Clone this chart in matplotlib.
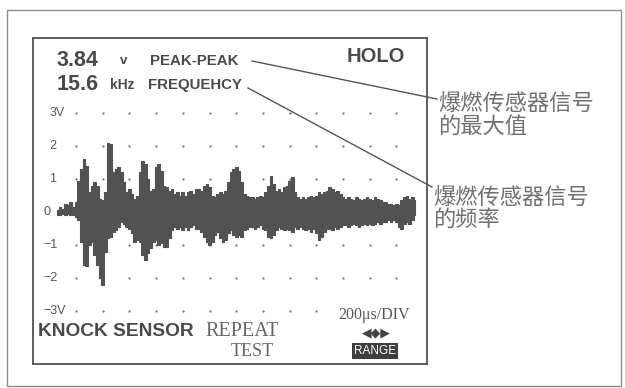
import numpy as np
import matplotlib
matplotlib.use("Agg")
import matplotlib.pyplot as plt
from matplotlib.lines import Line2D
from matplotlib.patches import Rectangle

# knock sensor trace, envelope (volts), one sample every 20 us
sample_us = 20
start_us = -140
upper = [0.05, 0.15, 0.1, 0.25, 0.2, 0.3, 0.15, 0.3, 0.95, 1.3,
         1.6, 1.4, 0.6, 0.8, 0.9, 0.8, 0.4, 0.35, 0.6, 2.1,
         2.05, 1.2, 1.3, 1.35, 1.2, 0.9, 0.6, 0.7, 0.55, 0.4,
         0.5, 1.2, 1.55, 1.45, 1.0, 0.65, 0.7, 1.35, 1.45, 1.25,
         0.8, 0.75, 0.65, 0.7, 0.55, 0.6, 0.5, 0.6, 0.5, 0.6,
         0.65, 0.55, 0.7, 0.7, 0.65, 0.8, 0.85, 0.75, 0.5, 0.45,
         0.55, 0.6, 0.55, 0.65, 0.9, 1.2, 1.3, 1.35, 1.25, 0.9,
         0.55, 0.5, 0.45, 0.45, 0.4, 0.45, 0.5, 0.45, 0.6, 0.8,
         1.1, 0.85, 0.65, 0.7, 0.6, 0.75, 0.8, 0.95, 1.05, 0.6,
         0.45, 0.4, 0.45, 0.4, 0.45, 0.5, 0.45, 0.5, 0.6, 0.55,
         0.6, 0.65, 0.75, 0.7, 0.6, 0.65, 0.55, 0.45, 0.4, 0.45,
         0.4, 0.35, 0.45, 0.4, 0.35, 0.4, 0.45, 0.4, 0.35, 0.45,
         0.4, 0.35, 0.3, 0.3, 0.25, 0.25, 0.2, 0.25, 0.2, 0.35,
         0.45, 0.5, 0.4, 0.45, 0.35]
lower = [-0.1, -0.1, -0.05, -0.1, -0.05, -0.1, -0.1, -0.15, -0.25, -0.9,
         -1.6, -1.65, -1.0, -0.9, -1.3, -1.6, -2.0, -2.2, -1.2, -0.8,
         -0.75, -0.6, -0.55, -0.45, -0.3, -0.35, -0.45, -0.5, -0.65, -0.9,
         -0.85, -0.9, -1.3, -1.45, -1.25, -1.1, -0.9, -0.85, -1.0, -0.95,
         -1.05, -1.05, -0.8, -0.55, -0.45, -0.5, -0.45, -0.55, -0.45, -0.55,
         -0.45, -0.4, -0.5, -0.5, -0.6, -0.75, -0.9, -1.0, -0.9, -0.7,
         -0.6, -0.8, -0.9, -0.85, -0.65, -0.55, -0.7, -0.75, -0.7, -0.75,
         -0.55, -0.5, -0.45, -0.45, -0.5, -0.45, -0.4, -0.5, -0.55, -0.75,
         -0.8, -0.7, -0.55, -0.45, -0.5, -0.55, -0.5, -0.55, -0.6, -0.45,
         -0.5, -0.45, -0.5, -0.55, -0.5, -0.6, -0.5, -0.65, -0.85, -0.75,
         -0.6, -0.5, -0.5, -0.55, -0.45, -0.5, -0.45, -0.4, -0.4, -0.45,
         -0.4, -0.35, -0.4, -0.45, -0.4, -0.35, -0.4, -0.35, -0.4, -0.35,
         -0.3, -0.35, -0.3, -0.3, -0.25, -0.3, -0.25, -0.3, -0.45, -0.5,
         -0.35, -0.3, -0.35, -0.25, -0.1]

grid_us = [0, 200, 400, 600, 800, 1000, 1200, 1400, 1600, 1800, 2000, 2200, 2400]
grid_v = [3, 2, 1, -1, -2, -3]
volt_labels = ["3V", "2", "1", "0", "\u22121", "\u22122", "\u22123V"]
volt_values = [3, 2, 1, 0, -1, -2, -3]

peak_v = "3.84"
freq_khz = "15.6"

W, H = 625, 388
sans = ["Liberation Sans", "DejaVu Sans"]
serif = ["Liberation Serif", "DejaVu Serif"]
cjk = ["Noto Sans CJK SC", "DejaVu Sans"]
ink = "#4a4a4a"


def fx(px):
    return px / W


def fy(py):
    return 1 - py / H


fig = plt.figure(figsize=(W / 100, H / 100), dpi=100)
fig.patch.set_facecolor("white")

# outer page frame
fig.add_artist(Rectangle((fx(7), fy(386)), fx(621) - fx(7), fy(10) - fy(386),
                         transform=fig.transFigure, fill=False, ec="#8a8a8a", lw=1))

# scope screen
ax = fig.add_axes([fx(33), fy(364), fx(427) - fx(33), fy(38) - fy(364)])
ax.set_xlim(-322, 2629)
ax.set_ylim(-4.606, 5.273)
ax.set_xticks([])
ax.set_yticks([])
for s in ax.spines.values():
    s.set_color("#505050")
    s.set_linewidth(1.3)

gx, gy = [], []
for v in grid_v:
    for t in grid_us:
        if v == -3 and t >= 2000:
            continue
        gx.append(t)
        gy.append(v)
ax.scatter(gx, gy, s=2.5, color="#707070", lw=0, zorder=1)

t = start_us + sample_us * np.arange(len(upper))
ax.fill_between(t, lower, upper, step="mid", color="#525252", lw=0.8, ec="#525252",
                zorder=2)

for lab, v in zip(volt_labels, volt_values):
    x0 = -200 if v > 0 else -245
    ax.text(x0, v, lab, ha="left", va="center", fontsize=9, color="#555555",
            family=sans)

# header readouts
fig.text(fx(57), fy(60), peak_v, fontsize=15.5, fontweight="bold", color=ink,
         family=sans, va="center")
fig.text(fx(120), fy(61), "v", fontsize=9.5, fontweight="bold", color=ink,
         family=sans, va="center")
fig.text(fx(150), fy(61), "PEAK-PEAK", fontsize=10.8, fontweight="bold", color=ink,
         family=sans, va="center")
fig.text(fx(57), fy(84), freq_khz, fontsize=15.5, fontweight="bold", color=ink,
         family=sans, va="center")
fig.text(fx(110), fy(85), "kHz", fontsize=10, fontweight="bold", color=ink,
         family=sans, va="center")
fig.text(fx(148), fy(85), "FREQUEHCY", fontsize=10.8, fontweight="bold", color=ink,
         family=sans, va="center")
fig.text(fx(347), fy(57), "HOLO", fontsize=14.5, fontweight="bold", color=ink,
         family=sans, va="center")

# footer
fig.text(fx(38), fy(332), "KNOCK SENSOR", fontsize=13.8, fontweight="bold", color=ink,
         family=sans, va="center")
fig.text(fx(242), fy(332), "REPEAT", fontsize=14.5, color="#666666", family=serif,
         va="center", ha="center")
fig.text(fx(252), fy(352), "TEST", fontsize=13, color="#666666", family=serif,
         va="center", ha="center")
fig.text(fx(374), fy(315), "200\u03bcs/DIV", fontsize=11.5, color="#555555", family=serif,
         va="center", ha="center")
fig.text(fx(376), fy(333), "\u25c0\u25c6\u25b6", fontsize=9, color="#444444",
         family=["DejaVu Sans"], va="center", ha="center")
fig.text(fx(375), fy(351), "RANGE", fontsize=8.5, color="white", family=sans,
         va="center", ha="center",
         bbox=dict(boxstyle="square,pad=0.2", fc="#3f3f3f", ec="none"))

# callouts
fig.add_artist(Line2D([fx(252), fx(437)], [fy(61), fy(99)], transform=fig.transFigure,
                      color="#555555", lw=1))
fig.add_artist(Line2D([fx(248), fx(432)], [fy(88), fy(187)], transform=fig.transFigure,
                      color="#555555", lw=1))
fig.text(fx(438), fy(103), "爆燃传感器信号", fontsize=16, color="#707070", family=cjk,
         va="center")
fig.text(fx(438), fy(126), "的最大值", fontsize=16, color="#707070", family=cjk,
         va="center")
fig.text(fx(433), fy(197), "爆燃传感器信号", fontsize=16, color="#707070", family=cjk,
         va="center")
fig.text(fx(433), fy(219), "的频率", fontsize=16, color="#707070", family=cjk,
         va="center")

fig.savefig("out.png", dpi=100, facecolor="white")
